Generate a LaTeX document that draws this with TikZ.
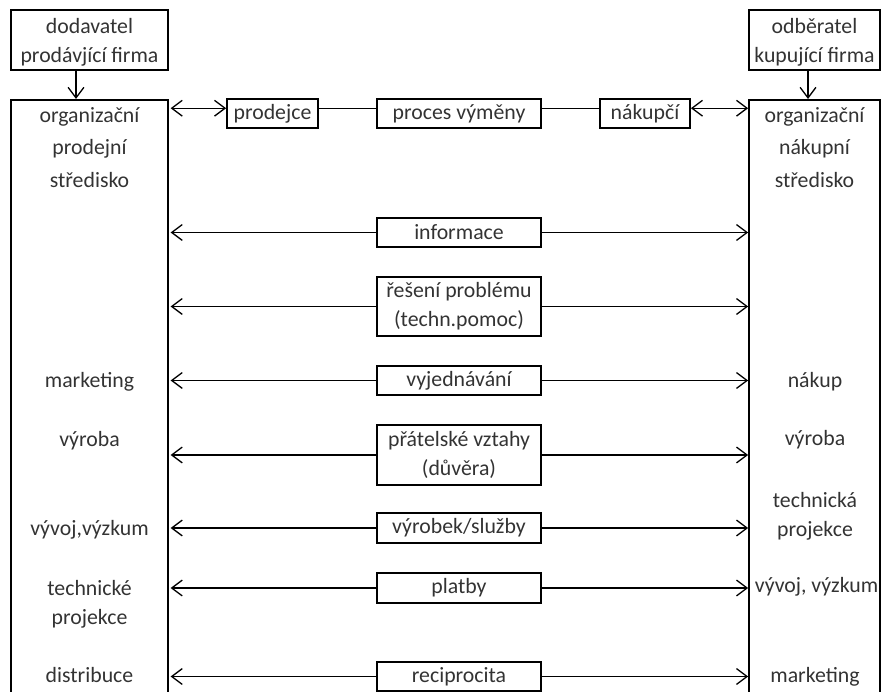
\documentclass[tikz,border=0pt]{standalone}
\usepackage{fontspec}
\setmainfont{Carlito}
\usetikzlibrary{arrows.meta}
\usetikzlibrary{positioning}

\tikzset{
  box/.style={draw, line width=1pt, inner sep=1pt, align=center},
  midbox/.style={box, minimum width=3.28cm},
  flow/.style={line width=0.75pt, >={Straight Barb[length=6pt,width=9pt,line width=0.75pt]}},
  lbl/.style={anchor=mid, inner sep=0pt},
}

\begin{document}
\begin{tikzpicture}[font=\fontsize{12.4}{16.5}\selectfont, text=black!80]
  \useasboundingbox (0,0) rectangle (17.66,13.82);

  % selling side
  \node[box, text depth=0pt, minimum width=3.14cm, minimum height=1.2cm] (supplier) at (1.79,13.02) {dodavatel\\prodávjící firma};
  \node[box, anchor=north, minimum width=3.14cm, minimum height=12.2cm] (sellorg) at (1.79,11.84) {};
  \node[align=center, font=\fontsize{12.4}{18.5}\selectfont] (sellhead) at (1.79,10.87) {organizační\\prodejní\\středisko};
  \draw[flow,->] ([xshift=-0.27cm]supplier.south) -- ([xshift=-0.27cm]sellorg.north);

  % buying side
  \node[box, text depth=0pt, minimum width=2.62cm, minimum height=1.2cm] (buyer) at (16.29,13.02) {odběratel\\kupující firma};
  \node[box, anchor=north, minimum width=2.62cm, minimum height=12.2cm] (buyorg) at (16.29,11.84) {};
  \node[align=center, font=\fontsize{12.4}{18.5}\selectfont] (buyhead) at (16.29,10.87) {organizační\\nákupní\\středisko};
  \draw[flow,->] ([xshift=-0.13cm]buyer.south) -- ([xshift=-0.13cm]buyorg.north);

  % exchange process row
  \node[box, minimum width=1.82cm, minimum height=0.58cm] (seller) at (5.45,11.55) {prodejce};
  \node[midbox, minimum height=0.58cm] (exchange) at (9.18,11.55) {proces výměny};
  \node[box, minimum width=1.8cm, minimum height=0.58cm] (purchaser) at (12.9,11.55) {nákupčí};
  \draw[flow,<->, shorten >=1pt] ([yshift=3pt]seller.west) -- ([yshift=3pt]seller.west -| sellorg.east);
  \draw[flow] ([yshift=3pt]seller.east) -- ([yshift=3pt]exchange.west);
  \draw[flow] ([yshift=3pt]exchange.east) -- ([yshift=3pt]purchaser.west);
  \draw[flow,<->] ([yshift=3pt]purchaser.east) -- ([yshift=3pt]purchaser.east -| buyorg.west);

  % flows between both sides
  \foreach \name/\y/\h/\txt in {info/9.17/0.58/informace,
      solve/7.69/1.18/{řešení problému\\(techn.pomoc)},
      deal/6.21/0.58/vyjednávání,
      trust/4.72/1.2/{přátelské vztahy\\(důvěra)},
      goods/3.26/0.6/{výrobek/služby},
      pay/2.06/0.6/platby,
      recip/0.29/0.58/reciprocita} {
    \node[midbox, minimum height=\h cm] (\name) at (9.18,\y) {\txt};
    \draw[flow,->, shorten >=1pt] (\name.west) -- (\name.west -| sellorg.east);
    \draw[flow,->] (\name.east) -- (\name.east -| buyorg.west);
  }

  % departments of the seller
  \node[lbl] (smarketing) at (1.79,6.16) {marketing};
  \node[lbl] (sproduction) at (1.79,4.98) {výroba};
  \node[lbl] (sresearch) at (1.79,3.2) {vývoj,výzkum};
  \node[align=center] (sdesign) at (1.79,1.73) {technické\\projekce};
  \node[lbl] (sdistrib) at (1.79,0.26) {distribuce};

  % departments of the buyer
  \node[lbl] (bpurchase) at (16.3,6.16) {nákup};
  \node[lbl] (bproduction) at (16.3,5.0) {výroba};
  \node[align=center] (bdesign) at (16.3,3.5) {technická\\projekce};
  \node[lbl] (bresearch) at (16.33,2.06) {vývoj, výzkum};
  \node[lbl] (bmarketing) at (16.3,0.26) {marketing};
\end{tikzpicture}
\end{document}
